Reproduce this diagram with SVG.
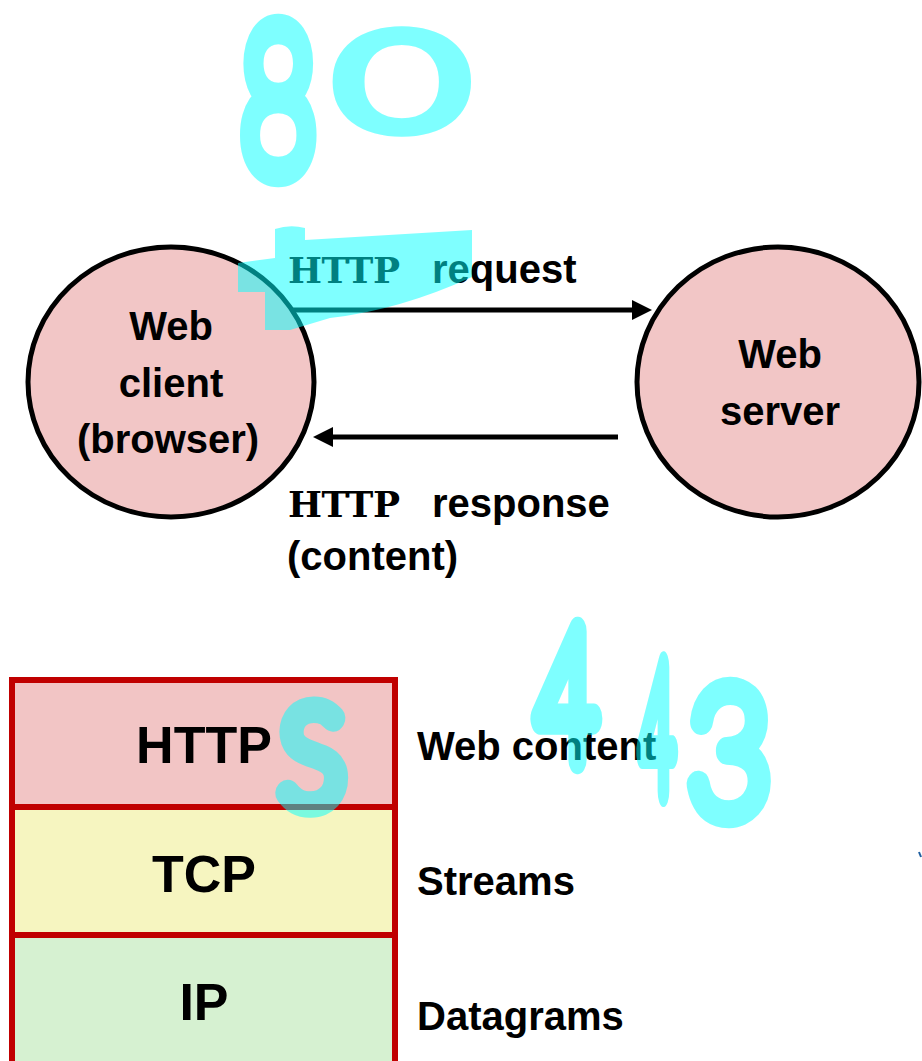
<svg xmlns="http://www.w3.org/2000/svg" width="922" height="1061" viewBox="0 0 922 1061">
<style>
.node { fill: #F2C6C6; stroke: #000; stroke-width: 5; }
.lbl { font-family: "Liberation Sans", Arial, sans-serif; font-weight: bold; font-size: 40px; fill: #000; }
.big { font-size: 52px; }
.mono { font-family: "DejaVu Serif", "Liberation Serif", serif; font-weight: bold; font-size: 36px; fill: #000; }
.layer { stroke: #C00000; stroke-width: 6; }
.conn { stroke: #000; stroke-width: 5; fill: none; }
.ink { font-family: Lato, "DejaVu Sans", sans-serif; font-weight: 100; font-size: 100px; fill: #00FFFF; stroke: #00FFFF; stroke-width: 24; stroke-linejoin: round; stroke-linecap: round; vector-effect: non-scaling-stroke; opacity: 0.5; }
.hl { fill: #00FFFF; opacity: 0.5; }
</style>
<defs>
<marker id="arr" markerUnits="userSpaceOnUse" markerWidth="20" markerHeight="20" viewBox="0 0 18 18" refX="0" refY="9" orient="auto">
<path d="M0,0 L18,9 L0,18 Z" fill="#000"/>
</marker>
</defs>
<rect width="922" height="1061" fill="#fff"/>

<g id="client">
<ellipse class="node" cx="171" cy="382" rx="143" ry="135"/>
<text class="lbl" x="171" y="340" text-anchor="middle">Web</text>
<text class="lbl" x="171" y="397" text-anchor="middle">client</text>
<text class="lbl" x="168" y="453" text-anchor="middle">(browser)</text>
</g>

<g id="server">
<ellipse class="node" cx="778" cy="382" rx="141" ry="135"/>
<text class="lbl" x="780" y="368" text-anchor="middle">Web</text>
<text class="lbl" x="780" y="425" text-anchor="middle">server</text>
</g>

<g id="connectors">
<line class="conn" x1="292" y1="310" x2="632" y2="310" marker-end="url(#arr)"/>
<line class="conn" x1="618" y1="437" x2="333" y2="437" marker-end="url(#arr)"/>
</g>

<g id="request-label">
<text class="mono" x="288" y="283" textLength="112" lengthAdjust="spacing">HTTP</text>
<text class="lbl" x="432" y="283">request</text>
</g>
<g id="response-label">
<text class="mono" x="288" y="517" textLength="112" lengthAdjust="spacing">HTTP</text>
<text class="lbl" x="432" y="517">response</text>
<text class="lbl" x="287" y="570">(content)</text>
</g>

<g id="layer-http">
<rect class="layer" x="12" y="680" width="383" height="127" fill="#F2C5C5"/>
<text class="lbl big" x="204" y="763" text-anchor="middle">HTTP</text>
<text class="lbl" x="417" y="760">Web content</text>
</g>
<g id="layer-tcp">
<rect class="layer" x="12" y="807" width="383" height="128" fill="#F6F5C0"/>
<text class="lbl big" x="204" y="892" text-anchor="middle">TCP</text>
<text class="lbl" x="417" y="895">Streams</text>
</g>
<g id="layer-ip">
<rect class="layer" x="12" y="935" width="383" height="140" fill="#D6F1D1"/>
<text class="lbl big" x="204" y="1020" text-anchor="middle">IP</text>
<text class="lbl" x="417" y="1030">Datagrams</text>
</g>

<g id="annotations">
<text class="ink" transform="translate(240,172) scale(1.32,2.03)">8</text>
<text class="ink" transform="translate(338,128) scale(2.2,1.3)">0</text>
<path class="hl" d="M275,240 L275,229 Q290,224 305,228 L305,240 L472,230 L472,277 Q400,310 330,318 L290,330 L265,330 L265,292 L238,292 L238,263 L275,258 Z"/>
<text class="ink" transform="translate(280,805) scale(1.22,1.34)">S</text>
<text class="ink" transform="translate(536,759) scale(1.06,1.82)">4</text>
<text class="ink" transform="translate(640,791) scale(0.6,1.76)">4</text>
<text class="ink" transform="translate(688,814) scale(1.43,1.75)">3</text>
<path d="M919,852 L921,857" stroke="#1F5FA0" stroke-width="2" fill="none"/>
</g>
</svg>
